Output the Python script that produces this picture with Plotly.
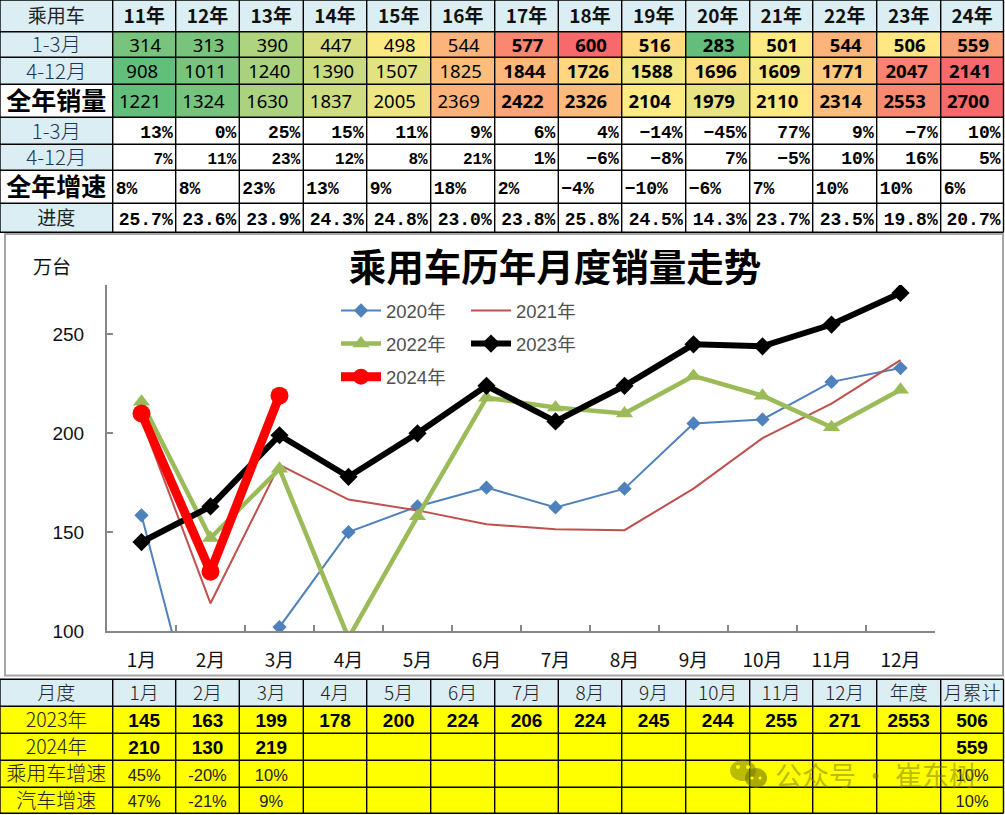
import plotly.graph_objects as go
import statistics

# ---------- data ----------
years = ["11年","12年","13年","14年","15年","16年","17年","18年","19年","20年","21年","22年","23年","24年"]
sales_q1 = [314,313,390,447,498,544,577,600,516,283,501,544,506,559]
sales_rest = [908,1011,1240,1390,1507,1825,1844,1726,1588,1696,1609,1771,2047,2141]
sales_year = [1221,1324,1630,1837,2005,2369,2422,2326,2104,1979,2110,2314,2553,2700]
growth_q1 = ["13%","0%","25%","15%","11%","9%","6%","4%","−14%","−45%","77%","9%","−7%","10%"]
growth_rest = ["7%","11%","23%","12%","8%","21%","1%","−6%","−8%","7%","−5%","10%","16%","5%"]
growth_year = ["8%","8%","23%","13%","9%","18%","2%","−4%","−10%","−6%","7%","10%","10%","6%"]
progress = ["25.7%","23.6%","23.9%","24.3%","24.8%","23.0%","23.8%","25.8%","24.5%","14.3%","23.7%","23.5%","19.8%","20.7%"]
top_labels = ["乘用车","1-3月","4-12月","全年销量","1-3月","4-12月","全年增速","进度"]

months = ["1月","2月","3月","4月","5月","6月","7月","8月","9月","10月","11月","12月"]
s2020 = [158.5,25,102,150,163,172.5,162.5,172,205,207,226,233]
s2021 = [207,114,184,166.5,161,154,151.5,151,172,197.5,215,237]
s2022 = [216,147,182,96.5,158,218,213,210,229,219,203,222]
s2023 = [145,163,199,178,200,224,206,224,245,244,255,271]
s2024 = [210,130,219]

bottom_header = ["月度"] + months + ["年度","月累计"]
bottom_labels = ["2023年","2024年","乘用车增速","汽车增速"]
row_2023 = ["145","163","199","178","200","224","206","224","245","244","255","271","2553","506"]
row_2024 = ["210","130","219","","","","","","","","","","","559"]
row_car = ["45%","-20%","10%","","","","","","","","","","","10%"]
row_auto = ["47%","-21%","9%","","","","","","","","","","","10%"]

# ---------- layout constants (page pixels) ----------
W, H = 1005, 815
XE = [0,112.7,175.7,239.3,303.3,366.7,430.7,494.7,558.3,621.7,685.7,749.7,812.7,876.7,940.7,1003.5]
YT = [0,31.7,57.3,84.3,117.3,144.3,170.3,203.3,232.3]
YB = [679.3,706.3,733.3,760.3,787.3,813.3]
XC = [(a+b)/2 for a,b in zip(XE[:-1],XE[1:])]
TEXT_DY = 2.6
YTC = [(a+b)/2+TEXT_DY for a,b in zip(YT[:-1],YT[1:])]
YBC = [(a+b)/2+TEXT_DY for a,b in zip(YB[:-1],YB[1:])]
CJK = "Noto Sans CJK SC"
MONO = "Liberation Mono"
LAT = "Liberation Sans"
LABEL = "#1f3556"
DARK = "#222222"

fig = go.Figure()
TA = dict(xaxis="x2", yaxis="y2")

def excel_scale(vals):
    lo, mid, hi = min(vals), statistics.median(vals), max(vals)
    return [0.5*(v-lo)/(mid-lo) if v <= mid else 0.5+0.5*(v-mid)/(hi-mid) for v in vals]

def heat(xe, ye, z, scale):
    fig.add_trace(go.Heatmap(x=xe, y=ye, z=z, zmin=0, zmax=1, colorscale=scale,
                             showscale=False, hoverinfo="skip", **TA))

def text(xs, ys, t, size, family=CJK, color="#000000", weight="normal", pos="middle center"):
    fig.add_trace(go.Scatter(x=xs, y=ys, text=t, mode="text", textposition=pos, showlegend=False,
                             hoverinfo="skip", cliponaxis=False,
                             textfont=dict(size=size, family=family, color=color, weight=weight), **TA))

# fills
BLUE = [[0,"#DAEEF3"],[1,"#DAEEF3"]]
YEL = [[0,"#FFFF00"],[1,"#FFFF00"]]
EXCEL = [[0,"#63BE7B"],[0.5,"#FFEB84"],[1,"#F8696B"]]
blue_mask = [[1 if (r == 0 or (c == 0 and r not in (3,6))) else None for c in range(15)] for r in range(8)]
heat(XE, YT, blue_mask, BLUE)
heat(XE[1:], YT[1:5], [excel_scale(sales_q1), excel_scale(sales_rest), excel_scale(sales_year)], EXCEL)
heat(XE, YB[:2], [[1]*15], BLUE)
heat(XE, YB[1:], [[1]*15 for _ in range(4)], YEL)

# top table text
text(XC[:1]*8, YTC, top_labels,
     [19,20.5,20.5,25,20.5,20.5,25,19], color=[DARK,LABEL,LABEL,"#000",LABEL,LABEL,"#000",DARK],
     weight=[400,300,300,700,300,300,700,400])
text(XC[1:], [YTC[0]]*14, years, 19, weight=700, color="#111111")
def w(vals):
    return [str(v) for v in vals], [700 if i >= 6 else 400 for i in range(14)]
for r,(vals,dx) in enumerate([(sales_q1,1),(sales_rest,-2),(sales_year,-4)]):
    t,wt = w(vals)
    text([x+dx for x in XC[1:]], [YTC[r+1]]*14, t, 18.5, family="Noto Sans", weight=wt)
R = [x-3 for x in XE[2:]]
text(R, [YTC[4]]*14, growth_q1, 18, family=MONO, weight=700, pos="middle left")
text(R, [YTC[5]]*14, growth_rest, [16]*6+[18]*8, family=MONO, weight=700, pos="middle left")
text([x+3 for x in XE[1:15]], [YTC[6]]*14, growth_year, 18, family=MONO, weight=700, pos="middle right")
text(R, [YTC[7]]*14, progress, 18, family=MONO, weight=700, pos="middle left")

# bottom table text
text(XC, [YBC[0]]*15, bottom_header, 19, color=DARK, weight=300)
text(XC[:1]*4, YBC[1:], bottom_labels, [19.5,19.5,20,20], color=DARK, weight=300)
text(XC[1:], [YBC[1]]*14, row_2023, 19, family=LAT, weight=700)
text(XC[1:], [YBC[2]]*14, row_2024, 19, family=LAT, weight=700)
text(XC[1:], [YBC[3]]*14, row_car, 16.5, family=LAT, color=DARK)
text(XC[1:], [YBC[4]]*14, row_auto, 16.5, family=LAT, color=DARK)

# line chart
def series(name, y, color, width, symbol=None, size=0, legend="legend"):
    mode = "lines+markers" if symbol else "lines"
    fig.add_trace(go.Scatter(x=months[:len(y)], y=y, name=name, mode=mode, legend=legend, legendgroup=name,
                             line=dict(color=color, width=width),
                             marker=dict(symbol=symbol or "circle", size=size or 6, color=color),
                             hoverinfo="skip"))
series("2020年", s2020, "#4F81BD", 2, "diamond", 11)
series("2021年", s2021, "#C0504D", 2, None, 0, "legend2")
series("2022年", s2022, "#9BBB59", 4.5, "triangle-up", 15)
series("2023年", s2023, "#000000", 6, "diamond", 14, "legend2")
series("2024年", s2024, "#FF0000", 9, "circle", 18)

# grid lines
shapes = []
def seg(x0,y0,x1,y1,c="#000000",wd=1.4):
    shapes.append(dict(type="line",xref="x2",yref="y2",x0=x0,y0=y0,x1=x1,y1=y1,line=dict(color=c,width=wd)))
for y in YT: seg(0,y,XE[-1],y)
for x in XE: seg(x,0,x,YT[-1])
for y in YB: seg(0,y,XE[-1],y)
for x in XE: seg(x,YB[0],x,YB[-1])
shapes.append(dict(type="rect",xref="x2",yref="y2",x0=5,y0=234,x1=1003,y1=675.5,
                   line=dict(color="#A6A6A6",width=2),fillcolor="rgba(0,0,0,0)"))
# watermark icon
WM = "rgba(120,120,0,0.5)"
shapes.append(dict(type="circle",xref="x2",yref="y2",x0=730,y0=760,x1=756,y1=781,fillcolor=WM,line=dict(width=0)))
shapes.append(dict(type="circle",xref="x2",yref="y2",x0=745,y0=768,x1=767,y1=788,fillcolor="rgba(120,120,0,0.62)",line=dict(width=0)))
for cx,cy,r in [(738,767,2),(748,767,2),(752,778,1.6),(760,778,1.6)]:
    shapes.append(dict(type="circle",xref="x2",yref="y2",x0=cx-r,y0=cy-r,x1=cx+r,y1=cy+r,fillcolor="#FFFF00",line=dict(width=0)))

axis_grey = "#868686"
LEG_FONT = dict(family=LAT+", "+CJK, size=18.5, color="#505050")
fig.update_layout(
    template="none",
    width=W, height=H, margin=dict(l=0,r=0,t=0,b=0,pad=0), autosize=False,
    paper_bgcolor="white", plot_bgcolor="rgba(0,0,0,0)", shapes=shapes,
    title=dict(text="乘用车历年月度销量走势", x=555/W, xanchor="center", y=1-268/H, yanchor="middle",
               font=dict(family=CJK, size=37.5, color="#000000", weight=700)),
    xaxis=dict(domain=[107/W,935/W], anchor="y", type="category", categoryorder="array", categoryarray=months,
               range=[-0.5,11.5], tickson="boundaries", ticks="inside", ticklen=6, tickcolor=axis_grey, tickwidth=1.5,
               showline=True, linecolor=axis_grey, linewidth=2, showgrid=False, zeroline=False, automargin=False,
               ticklabelstandoff=11, tickfont=dict(family=CJK, size=19, color="#111111")),
    yaxis=dict(domain=[1-631/H,1-285/H], anchor="x", range=[100,275], tickvals=[100,150,200,250],
               ticks="inside", ticklen=6, tickcolor=axis_grey, tickwidth=1.5,
               showline=True, linecolor=axis_grey, linewidth=2, showgrid=False, zeroline=False, automargin=False,
               ticklabelstandoff=17, tickfont=dict(family=LAT, size=19, color="#111111")),
    xaxis2=dict(domain=[0,1], anchor="y2", range=[0,W], visible=False, automargin=False),
    yaxis2=dict(domain=[0,1], anchor="x2", range=[H,0], visible=False, automargin=False),
    legend=dict(x=336/W, y=1-292/H, xanchor="left", yanchor="top", itemwidth=40, tracegroupgap=6,
                bgcolor="rgba(0,0,0,0)", font=LEG_FONT, itemclick=False),
    legend2=dict(x=466/W, y=1-292/H, xanchor="left", yanchor="top", itemwidth=40, tracegroupgap=6,
                 bgcolor="rgba(0,0,0,0)", font=LEG_FONT, itemclick=False),
    annotations=[
        dict(text="万台", xref="x2", yref="y2", x=52, y=265, showarrow=False, font=dict(family=CJK, size=19, color="#111111")),
        dict(text="公众号 · 崔东树", xref="x2", yref="y2", x=875, y=774, showarrow=False,
             font=dict(family=CJK, size=27, color=WM)),
    ],
)
fig.write_html("out.html", config=dict(displayModeBar=False),
               post_script="document.body.style.margin='0';document.body.style.overflow='hidden';")
